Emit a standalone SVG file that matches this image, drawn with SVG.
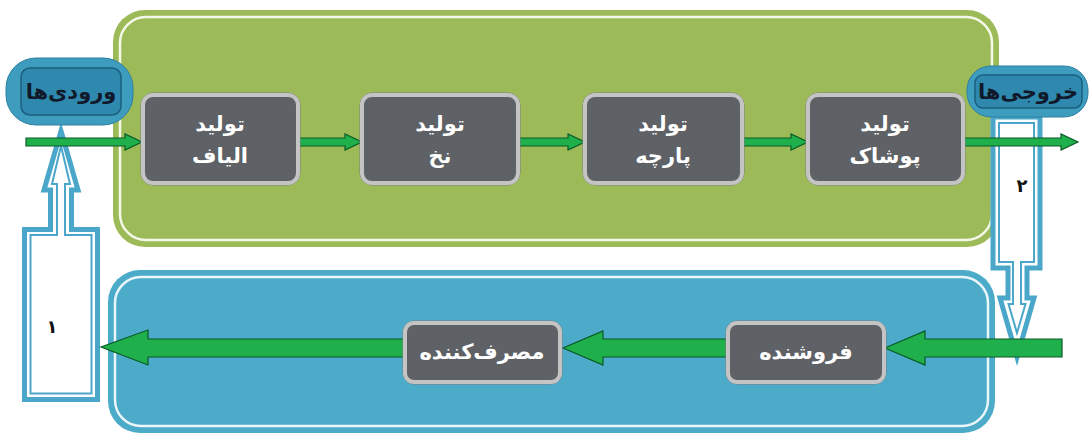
<svg xmlns="http://www.w3.org/2000/svg" width="1091" height="435" viewBox="0 0 1091 435">
<defs>
<style>
.box{fill:#5e6166;stroke:#c4c4c4;stroke-width:4}
.boxo{fill:none;stroke:#7d7f83;stroke-width:1}
.bt{font-family:"DejaVu Sans",sans-serif;font-weight:bold;font-size:21px;fill:#ffffff;text-anchor:middle;direction:rtl}
.pt{font-family:"DejaVu Sans",sans-serif;font-weight:bold;font-size:21px;fill:#101a2a;text-anchor:middle;direction:rtl}
.num{font-family:"DejaVu Sans",sans-serif;font-weight:bold;font-size:18px;fill:#111;text-anchor:middle}
.ga{fill:#1fb04c;stroke:#0b5a26;stroke-width:1.2;stroke-linejoin:miter}
.hol{fill:#ffffff;stroke:#4aa7c9;stroke-width:5;stroke-linejoin:miter}
.holi{fill:none;stroke:#4aa7c9;stroke-width:2}
.pill{fill:#3e9cbf;stroke:#2c7fa1;stroke-width:1}
.pilli{fill:#2f89ae;stroke:#1a5f7e;stroke-width:1.5}
</style>
</defs>
<rect width="1091" height="435" fill="#ffffff"/>
<g id="green-panel">
<rect x="113" y="10" width="886" height="237" rx="32" fill="#9cbb58"/>
<rect x="120" y="17" width="872" height="223" rx="26" fill="none" stroke="#f4f8e8" stroke-width="2.5"/>
</g>
<g id="blue-panel">
<rect x="108" y="270" width="887" height="163" rx="32" fill="#4babc9"/>
<rect x="115" y="277" width="873" height="149" rx="26" fill="none" stroke="#eaf6fa" stroke-width="2.5"/>
</g>
<g id="arrow-1">
<path class="hol" d="M61,131 L78,190 H71.5 V229.5 H97.5 V399.5 H24.5 V229.5 H50.5 V190 H44 Z"/>
<path class="holi" d="M61,146 L70,184 H65 V235 H91.5 V393.5 H30.5 V235 H57 V184 H52 Z"/>
<text class="num" x="52" y="333">۱</text>
</g>
<g id="arrow-2">
<path class="hol" d="M993,117 H1040 V268 H1027 V298 H1034 L1017,357 L1000,298 H1008 V268 H993 Z"/>
<path class="holi" d="M999,123 H1034 V262 H1021 V304 H1025.5 L1017,333 L1008.5,304 H1013 V262 H999 Z"/>
<text class="num" x="1022" y="192">۲</text>
</g>
<g id="connectors">
<path class="ga" d="M26,138 H125 V134 L142,142 L125,150 V146 H26 Z"/>
<path class="ga" d="M298,138 H345 V134 L362,142 L345,150 V146 H298 Z"/>
<path class="ga" d="M519,138 H568 V134 L585,142 L568,150 V146 H519 Z"/>
<path class="ga" d="M743,138 H791 V134 L808,142 L791,150 V146 H743 Z"/>
<path class="ga" d="M964,138 H1061 V134 L1078,142 L1061,150 V146 H964 Z"/>
<path class="ga" d="M1062,339 H925 V331 L885,348 L925,365 V357 H1062 Z"/>
<path class="ga" d="M728,339 H603 V331 L563,348 L603,365 V357 H728 Z"/>
<path class="ga" d="M405,339 H148 V330 L101,347 L148,365 V357 H405 Z"/>
</g>
<g id="inputs">
<rect class="pill" x="6" y="58" width="127" height="67" rx="30"/>
<rect class="pilli" x="21" y="68" width="100" height="47" rx="9"/>
<text class="pt" x="71" y="99">ورودی‌ها</text>
</g>
<g id="outputs">
<rect class="pill" x="967" y="66" width="121" height="51" rx="24"/>
<rect class="pilli" x="975" y="75" width="107" height="33" rx="8"/>
<text class="pt" x="1028" y="99">خروجی‌ها</text>
</g>
<g id="fiber">
<rect class="boxo" x="141" y="93" width="159" height="92" rx="12"/>
<rect class="box" x="143" y="95" width="155" height="88" rx="10"/>
<text class="bt" x="220" y="131">تولید</text>
<text class="bt" x="220" y="163">الیاف</text>
</g>
<g id="yarn">
<rect class="boxo" x="360" y="93" width="160" height="92" rx="12"/>
<rect class="box" x="362" y="95" width="156" height="88" rx="10"/>
<text class="bt" x="440" y="131">تولید</text>
<text class="bt" x="440" y="163">نخ</text>
</g>
<g id="fabric">
<rect class="boxo" x="583" y="93" width="161" height="92" rx="12"/>
<rect class="box" x="585" y="95" width="157" height="88" rx="10"/>
<text class="bt" x="663" y="131">تولید</text>
<text class="bt" x="663" y="163">پارچه</text>
</g>
<g id="clothing">
<rect class="boxo" x="806" y="93" width="159" height="92" rx="12"/>
<rect class="box" x="808" y="95" width="155" height="88" rx="10"/>
<text class="bt" x="885" y="131">تولید</text>
<text class="bt" x="885" y="163">پوشاک</text>
</g>
<g id="seller">
<rect class="boxo" x="726" y="321" width="160" height="63" rx="11"/>
<rect class="box" x="728" y="323" width="156" height="59" rx="9"/>
<text class="bt" x="806" y="359">فروشنده</text>
</g>
<g id="consumer">
<rect class="boxo" x="403" y="321" width="159" height="63" rx="11"/>
<rect class="box" x="405" y="323" width="155" height="59" rx="9"/>
<text class="bt" x="482" y="359">مصرف‌کننده</text>
</g>
</svg>
